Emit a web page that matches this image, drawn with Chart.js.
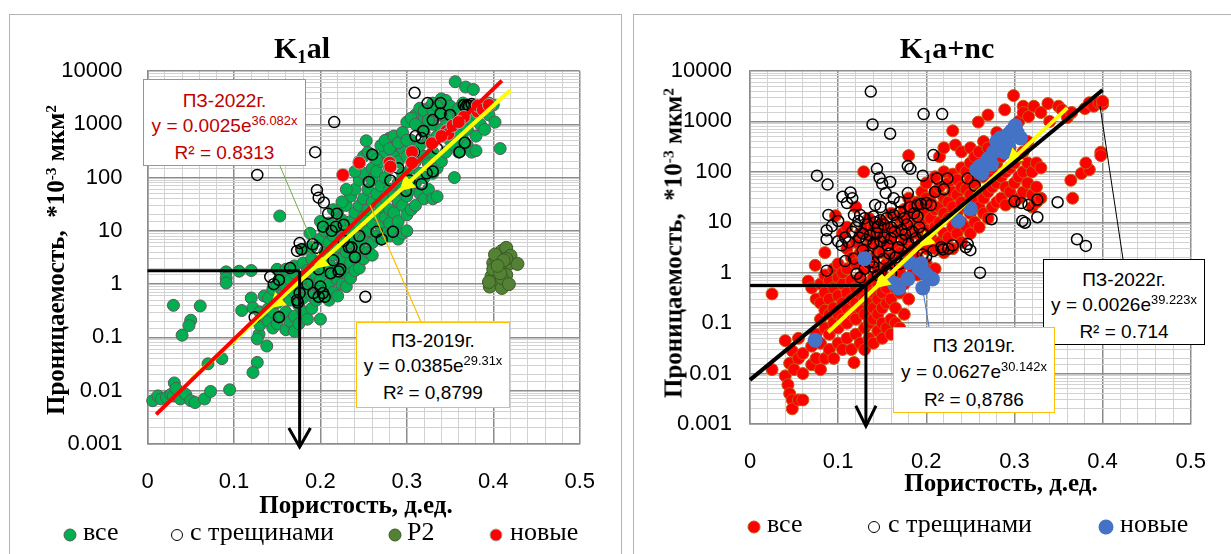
<!DOCTYPE html>
<html>
<head>
<meta charset="utf-8">
<script src="https://cdn.jsdelivr.net/npm/chart.js@4.4.0/dist/chart.umd.min.js"></script>
<style>
body{margin:0;width:1231px;height:554px;overflow:hidden;background:#fff;position:relative;font-family:"Liberation Sans",Arial,sans-serif}
.panel{position:absolute;border:1.5px solid #b4b4b4}
canvas{position:absolute;top:0}
svg{position:absolute;left:0;top:0}
.t{position:absolute;font-family:"Liberation Serif","Times New Roman",serif;font-weight:bold;white-space:nowrap;transform:translate(-50%,-50%);line-height:1;color:#000}
.t sub{font-size:62%;position:relative;top:0.28em;vertical-align:baseline}
.t sup{font-size:62%;position:relative;top:-0.5em;vertical-align:baseline}
.rot{transform:translate(-50%,-50%) rotate(-90deg)}
.box{position:absolute;background:#fff;text-align:center;font-size:19px;line-height:25px;box-sizing:border-box;white-space:nowrap}
.box sup{font-size:68%;position:relative;top:-0.55em;vertical-align:baseline}
.lg{position:absolute;font-family:"Liberation Serif","DejaVu Serif","Times New Roman",serif;font-size:26px;line-height:30px;white-space:nowrap;transform:translateY(-50%)}
.dot{position:absolute;width:13px;height:13px;border-radius:50%;box-sizing:border-box;transform:translate(-50%,-50%)}
</style>
</head>
<body>
<div class="panel" style="left:9px;top:14px;width:611px;height:560px"></div>
<div class="panel" style="left:633px;top:14px;width:620px;height:560px"></div>
<canvas id="kal" width="620" height="554" style="left:0"></canvas>
<canvas id="kanc" width="611" height="554" style="left:620px"></canvas>

<svg width="1231" height="554">
  <line x1="280" y1="166" x2="314" y2="246" stroke="#70AD47" stroke-width="1"/>
  <line x1="421" y1="322" x2="370" y2="205" stroke="#FFC000" stroke-width="1.2"/>
  <line x1="1123" y1="259" x2="1100" y2="106" stroke="#000" stroke-width="1"/>
  <line x1="929" y1="327" x2="922" y2="285" stroke="#4472C4" stroke-width="1"/>
</svg>

<div class="box" style="left:143px;top:79px;width:163px;height:87px;border:1.5px solid #ED7D31;color:#C00000;padding-top:8px">ПЗ-2022г.<br>y = 0.0025e<sup>36.082x</sup><br>R² = 0.8313</div>
<div class="box" style="left:356px;top:322px;width:154px;height:86px;border:1.5px solid #FFC000;color:#000;padding-top:5px">ПЗ-2019г.<br>y = 0.0385e<sup>29.31x</sup><br>R² = 0,8799</div>
<div class="box" style="left:1043px;top:259px;width:162px;height:86px;border:1.2px solid #000;color:#000;padding-top:7px">ПЗ-2022г.<br>y = 0.0026e<sup>39.223x</sup><br>R² = 0.714</div>
<div class="box" style="left:893px;top:327px;width:162px;height:86px;border:1.5px solid #FFC000;color:#000;padding-top:5px;line-height:26px">ПЗ 2019г.<br>y = 0.0627e<sup>30.142x</sup><br>R² = 0,8786</div>

<div class="t" style="left:302px;top:48px;font-size:30px">K<sub>1</sub>al</div>
<div class="t" style="left:947px;top:48px;font-size:30px">K<sub>1</sub>a+nc</div>
<div class="t rot" style="left:55px;top:260px;font-size:25px">Проницаемость,&nbsp;&nbsp;*10<sup>-3</sup> мкм<sup>2</sup></div>
<div class="t rot" style="left:673px;top:243px;font-size:25px">Проницаемость,&nbsp;&nbsp;*10<sup>-3</sup> мкм<sup>2</sup></div>
<div class="t" style="left:356px;top:504px;font-size:25px">Пористость, д.ед.</div>
<div class="t" style="left:1001px;top:482px;font-size:25px">Пористость, д.ед.</div>

<div class="dot" style="left:70px;top:535px;background:#00B050;border:1px solid #595959"></div>
<div class="lg" style="left:83px;top:532px">все</div>
<div class="dot" style="left:177px;top:535px;background:#fff;border:1.5px solid #000;width:12px;height:12px"></div>
<div class="lg" style="left:190px;top:532px">с трещинами</div>
<div class="dot" style="left:395px;top:535px;background:#548235;border:1px solid #3a5a24"></div>
<div class="lg" style="left:407px;top:532px">Р2</div>
<div class="dot" style="left:496px;top:535px;background:#FF0000;border:1px solid #a6a6a6"></div>
<div class="lg" style="left:510px;top:532px">новые</div>

<div class="dot" style="left:754px;top:527px;background:#FF0000;border:1px solid #C55A11"></div>
<div class="lg" style="left:767px;top:524px">все</div>
<div class="dot" style="left:874px;top:527px;background:#fff;border:1.5px solid #000;width:12px;height:12px"></div>
<div class="lg" style="left:888px;top:524px">с трещинами</div>
<div class="dot" style="left:1106px;top:527px;background:#4472C4;width:15px;height:15px"></div>
<div class="lg" style="left:1120px;top:524px">новые</div>

<script>
const xTickLabels = ['0', '0.1', '0.2', '0.3', '0.4', '0.5'];
const yTickLabels = ['0.001', '0.01', '0.1', '1', '10', '100', '1000', '10000'];

// K1al
const kalAll = [
  [0.006,0.0065],[0.012,0.008],[0.016,0.007],[0.022,0.0075],[0.027,0.0085],[0.03,0.008],[0.031,0.014],[0.033,0.011],
  [0.038,0.007],[0.044,0.0086],[0.05,0.0065],[0.055,0.006],[0.066,0.007],[0.073,0.0097],[0.095,0.0104],[0.07,0.032],
  [0.086,0.04],[0.03,0.4],[0.061,0.39],[0.05,0.21],[0.048,0.167],[0.04,0.11],[0.091,1.7],[0.091,1.3],[0.091,1.05],
  [0.106,1.75],[0.12,1.8],[0.12,0.55],[0.109,0.32],[0.122,0.36],[0.129,0.115],[0.127,0.094],[0.138,0.069],
  [0.127,0.034],[0.122,0.022],[0.153,19],
  [0.13,0.3],[0.13,0.17],[0.135,0.25],[0.135,0.6],[0.14,0.2],[0.14,0.35],[0.14,0.55],
  [0.145,0.15],[0.145,0.3],[0.145,0.8],[0.15,0.18],[0.15,0.45],[0.15,1.0],[0.15,1.9],
  [0.155,0.25],[0.155,0.6],[0.155,1.4],[0.16,0.14],[0.16,0.3],[0.16,0.9],[0.16,1.9],
  [0.165,0.2],[0.165,0.5],[0.165,1.2],[0.17,0.13],[0.17,0.25],[0.17,0.7],[0.17,1.6],[0.17,2.2],
  [0.175,0.18],[0.175,0.4],[0.175,1.0],[0.18,0.3],[0.18,0.55],[0.18,1.3],[0.18,2.5],[0.18,4.5],
  [0.185,0.22],[0.185,0.8],[0.185,1.8],[0.19,0.35],[0.19,0.6],[0.19,1.1],[0.19,3],[0.19,5],[0.188,9],
  [0.195,0.5],[0.195,1.5],[0.195,2.2],[0.2,0.22],[0.2,0.8],[0.2,1.2],[0.2,2.8],[0.2,7],
  [0.205,0.6],[0.205,1.8],[0.205,4],[0.205,10],[0.21,0.5],[0.21,1.0],[0.21,2.5],[0.21,6],[0.21,14],
  [0.215,0.7],[0.215,1.5],[0.215,3.5],[0.215,8],[0.22,0.6],[0.22,1.2],[0.22,2],[0.22,5],[0.22,12],[0.22,22],
  [0.225,1.0],[0.225,3],[0.225,7],[0.225,16],[0.23,0.9],[0.23,1.6],[0.23,4],[0.23,10],[0.23,30],
  [0.235,1.3],[0.235,2.5],[0.235,6],[0.235,15],[0.235,45],[0.24,1.8],[0.24,3.5],[0.24,9],[0.24,22],[0.24,60],
  [0.245,2],[0.245,5],[0.245,12],[0.245,30],[0.245,90],[0.25,3],[0.25,7],[0.25,18],[0.25,40],[0.25,120],
  [0.253,490],[0.255,4],[0.255,10],[0.255,25],[0.255,60],[0.26,3.5],[0.26,6],[0.26,14],[0.26,35],[0.26,90],[0.26,150],
  [0.265,8],[0.265,20],[0.265,50],[0.265,130],[0.27,7],[0.27,12],[0.27,28],[0.27,70],[0.27,200],
  [0.275,9],[0.275,18],[0.275,40],[0.275,100],[0.275,300],[0.28,8],[0.28,14],[0.28,25],[0.28,60],[0.28,150],[0.28,550],
  [0.285,10],[0.285,22],[0.285,45],[0.285,250],[0.285,400],[0.29,7],[0.29,15],[0.29,35],[0.29,80],[0.29,200],
  [0.295,9],[0.295,30],[0.295,60],[0.295,120],[0.295,350],[0.3,10],[0.3,20],[0.3,45],[0.3,100],[0.3,250],[0.3,1100],
  [0.305,25],[0.305,60],[0.305,150],[0.305,500],[0.31,30],[0.31,80],[0.31,200],[0.31,1500],
  [0.315,50],[0.315,120],[0.315,400],[0.315,900],[0.32,40],[0.32,100],[0.32,250],[0.32,700],[0.32,1300],
  [0.325,60],[0.325,180],[0.325,500],[0.325,2000],[0.33,40],[0.33,120],[0.33,300],[0.33,1000],[0.33,2500],
  [0.335,44],[0.335,150],[0.335,600],[0.335,1500],[0.34,200],[0.34,800],[0.34,2000],[0.34,3000],
  [0.345,300],[0.345,1200],[0.345,2800],[0.355,100],[0.35,500],[0.35,1500],[0.35,2200],
  [0.355,400],[0.355,900],[0.356,6300],[0.36,300],[0.36,700],[0.36,1500],[0.36,2000],
  [0.365,500],[0.365,1000],[0.365,2500],[0.368,5000],[0.37,400],[0.37,800],[0.37,1800],
  [0.375,300],[0.375,1200],[0.375,2200],[0.377,4500],[0.38,320],[0.38,600],[0.38,1500],
  [0.385,1000],[0.385,2000],[0.39,800],[0.39,2200],[0.395,1500],[0.395,2500],[0.402,1100],[0.4,2300],[0.408,350],
  [0.245,200],[0.25,250],[0.24,130],[0.255,300],[0.262,250],[0.265,220],[0.27,400],[0.275,500],[0.28,350],
  [0.285,600],[0.29,450],[0.295,700],[0.3,500],[0.305,1300],[0.31,1000],[0.315,2000],[0.32,1800],[0.325,1200],
  [0.33,1800],[0.335,2200],[0.34,1500],[0.225,35],[0.215,25],[0.23,60],[0.2,15]
];
const kalCracks = [
  [0.127,112],[0.194,300],[0.216,1100],[0.309,3900],[0.196,58],[0.198,42],[0.204,34],[0.209,21],[0.219,21],
  [0.203,12],[0.213,10],[0.227,13],[0.176,5.9],[0.178,4.5],[0.173,4.2],[0.191,5.6],[0.196,4.8],[0.142,1.37],
  [0.152,1.2],[0.146,1.0],[0.252,0.58],[0.173,0.5],[0.176,0.68],[0.174,0.45],[0.192,0.68],[0.203,0.68],
  [0.212,1.6],[0.221,1.72],[0.124,0.24],[0.152,0.24],[0.198,0.58],[0.205,0.58],[0.256,83],[0.26,270],
  [0.265,9.6],[0.271,6.9],[0.284,9.6],[0.236,4.9],[0.252,4.6],[0.223,1.9],[0.198,1.9],[0.324,2500],
  [0.339,2500],[0.339,1600],[0.317,550],[0.319,750],[0.33,1200],[0.335,350],[0.361,300],[0.367,450],
  [0.366,2300],[0.37,2300],[0.38,2300],[0.372,2200],[0.375,2400],[0.368,2100],[0.299,56],[0.317,75],
  [0.323,120],[0.33,130],[0.281,88],[0.303,88],[0.308,300],[0.218,12],[0.227,6.5],[0.233,4.9],[0.185,1.0],
  [0.165,2.0],[0.2,0.9],[0.215,2.8],[0.24,3.2],[0.245,8],[0.35,1500],[0.345,700],[0.31,600],[0.29,150]
];
const kalP2 = [
  [0.396,0.9],[0.398,1.4],[0.4,2.5],[0.403,3.2],[0.41,4.2],[0.415,4.8],[0.41,2.0],[0.405,1.2],[0.41,0.85],
  [0.415,1.5],[0.42,2.5],[0.42,3.4],[0.428,2.4],[0.415,3.0],[0.41,1.3],[0.4,1.9],[0.408,1.6],[0.418,1.0],
  [0.402,3.6],[0.395,1.1],[0.412,2.8],[0.405,2.2]
];
const kalNew = [
  [0.226,112],[0.245,190],[0.28,190],[0.281,160],[0.306,300],[0.306,190],[0.329,440],[0.346,750],[0.348,660],
  [0.353,940],[0.366,1370],[0.382,1730],[0.382,2230],[0.39,2200],[0.388,1880],[0.395,2300],[0.34,600],[0.36,1100]
];
const kalTrend2022 = [[0.01,0.0036],[0.41,6600]];
const kalTrend2019 = [[0.05,0.016],[0.15,0.47],[0.2,2.55],[0.3,75],[0.42,4400]];
const kalCutH = [[0,1.78],[0.176,1.78]];
const kalCutV = [[0.176,1.78],[0.176,0.00088]];
const kalArrow = [[0.1635,0.002],[0.176,0.00088],[0.1885,0.002]];

// K1a+nc
const kancAll = [
  [0.025,0.38],[0.025,0.012],[0.04,0.009],[0.04,0.045],[0.043,0.006],[0.045,0.004],[0.045,0.016],[0.048,0.003],
  [0.048,0.002],[0.048,0.028],[0.05,0.012],[0.055,0.003],[0.055,0.02],[0.055,0.05],[0.06,0.003],[0.06,0.01],[0.06,0.025],
  [0.066,0.68],[0.074,1.4],[0.07,0.015],[0.07,0.035],[0.07,0.5],[0.075,0.02],[0.075,0.06],[0.075,0.3],
  [0.08,0.012],[0.08,0.04],[0.08,0.12],[0.08,0.25],[0.08,0.6],[0.085,0.02],[0.085,0.08],[0.085,0.18],[0.085,0.4],
  [0.085,0.9],[0.085,2.5],[0.09,0.03],[0.09,0.06],[0.09,0.15],[0.09,0.3],[0.09,0.7],[0.097,13.5],
  [0.095,0.02],[0.095,0.1],[0.095,0.2],[0.095,0.5],[0.095,1.2],[0.1,0.04],[0.1,0.08],[0.1,0.15],[0.1,0.35],
  [0.1,0.8],[0.1,1.5],[0.105,0.03],[0.105,0.12],[0.105,0.25],[0.105,0.6],[0.105,1.0],[0.105,6],
  [0.11,0.05],[0.11,0.1],[0.11,0.2],[0.11,0.4],[0.11,1.2],[0.11,3],[0.11,8],[0.115,0.03],[0.115,0.15],[0.115,0.3],
  [0.115,0.7],[0.115,2],[0.118,0.0165],[0.12,0.06],[0.12,0.12],[0.12,0.25],[0.12,0.5],[0.12,1.5],[0.12,4],[0.12,20],
  [0.125,0.04],[0.125,0.2],[0.125,0.4],[0.125,0.8],[0.125,2.5],[0.125,6],[0.13,0.03],[0.13,0.08],[0.13,0.15],
  [0.13,0.3],[0.13,0.6],[0.13,1.2],[0.13,3],[0.13,8],[0.129,100],[0.135,0.05],[0.135,0.1],[0.135,0.25],[0.135,0.5],
  [0.135,1.5],[0.135,5],[0.135,12],[0.14,0.04],[0.14,0.12],[0.14,0.2],[0.14,0.4],[0.14,0.8],[0.14,2],[0.14,4],[0.14,8],
  [0.145,0.07],[0.145,0.15],[0.145,0.3],[0.145,0.6],[0.145,1.2],[0.145,3],[0.145,6],[0.15,0.05],[0.15,0.1],[0.15,0.2],
  [0.15,0.4],[0.15,1],[0.15,2.5],[0.15,5],[0.15,10],[0.155,0.08],[0.155,0.25],[0.155,0.5],[0.155,1.5],[0.155,4],[0.155,8],
  [0.16,0.06],[0.16,0.12],[0.16,0.3],[0.16,0.7],[0.16,2],[0.16,5],[0.16,15],[0.165,0.1],[0.165,0.2],[0.165,0.5],
  [0.165,1.2],[0.165,3],[0.165,7],[0.17,0.08],[0.17,0.4],[0.17,1],[0.17,2.5],[0.17,6],[0.17,12],
  [0.175,0.15],[0.175,0.6],[0.175,1.5],[0.175,4],[0.175,10],[0.175,18],[0.18,0.3],[0.18,0.8],[0.18,2],[0.18,5],
  [0.18,15],[0.18,30],[0.18,210],[0.185,1.2],[0.185,3],[0.185,8],[0.185,20],[0.19,0.9],[0.19,2],[0.19,6],[0.19,12],[0.19,25],
  [0.195,1.2],[0.195,4],[0.195,10],[0.195,22],[0.195,40],[0.2,1.5],[0.2,3],[0.2,7],[0.2,15],[0.2,30],[0.2,60],
  [0.205,1.1],[0.205,5],[0.205,12],[0.205,25],[0.21,1.2],[0.21,3],[0.21,8],[0.21,18],[0.21,40],[0.21,80],
  [0.215,4],[0.215,10],[0.215,20],[0.215,50],[0.215,200],[0.22,2.5],[0.22,6],[0.22,15],[0.22,30],[0.22,100],[0.22,300],
  [0.225,5],[0.225,12],[0.225,25],[0.225,60],[0.23,3],[0.23,8],[0.23,20],[0.23,40],[0.23,90],[0.23,650],[0.233,340],
  [0.235,6],[0.235,15],[0.235,35],[0.235,70],[0.24,4],[0.24,10],[0.24,25],[0.24,50],[0.24,120],[0.24,250],
  [0.245,8],[0.245,20],[0.245,45],[0.245,100],[0.25,6],[0.25,15],[0.25,35],[0.25,70],[0.25,150],[0.25,300],
  [0.255,10],[0.255,25],[0.255,60],[0.255,200],[0.26,8],[0.26,20],[0.26,40],[0.26,100],[0.26,250],[0.259,970],
  [0.265,15],[0.265,30],[0.265,80],[0.265,150],[0.265,400],[0.27,12],[0.27,40],[0.27,100],[0.27,300],[0.27,1340],
  [0.275,20],[0.275,50],[0.275,120],[0.28,25],[0.28,60],[0.28,150],[0.28,600],[0.285,30],[0.285,80],[0.285,200],[0.289,1700],
  [0.29,22],[0.29,50],[0.29,100],[0.29,250],[0.295,40],[0.295,120],[0.295,300],[0.3,25],[0.3,60],[0.3,150],[0.299,3250],
  [0.305,30],[0.305,80],[0.305,200],[0.305,1000],[0.31,40],[0.31,100],[0.31,250],[0.31,2000],[0.31,1500],
  [0.315,60],[0.315,150],[0.315,400],[0.316,1250],[0.32,20],[0.32,35],[0.32,100],[0.322,2000],
  [0.325,25],[0.325,50],[0.325,150],[0.33,30],[0.33,120],[0.33,1500],[0.338,2260],[0.34,1000],[0.35,2000],
  [0.354,1700],[0.36,1200],[0.365,1500],[0.366,30],[0.364,68],[0.376,93],[0.385,110],[0.381,150],
  [0.38,1800],[0.385,2350],[0.39,2000],[0.396,2350],[0.4,2200],[0.4,2500],[0.398,245],[0.398,210]
];
const kancCracks = [
  [0.137,3900],[0.139,870],[0.159,570],[0.197,1400],[0.218,1400],[0.208,215],[0.179,130],[0.182,115],[0.144,115],
  [0.147,76],[0.15,58],[0.159,63],[0.154,38],[0.076,84],[0.088,56],[0.105,32],[0.114,39],[0.116,30],[0.11,24],
  [0.089,14],[0.1,10.6],[0.093,8.4],[0.087,6.9],[0.087,4.6],[0.118,14],[0.123,10.6],[0.179,38],[0.196,84],[0.212,74],
  [0.224,74],[0.247,74],[0.255,53],[0.3,26],[0.308,24],[0.316,22],[0.326,28],[0.349,25],[0.309,10.6],[0.312,9.8],
  [0.326,12.6],[0.274,11.5],[0.371,4.6],[0.381,3.4],[0.261,1],[0.247,3.7],[0.217,3.2],[0.219,2.9],[0.196,2.3],
  [0.2,2.1],[0.108,1.7],[0.087,1.1],[0.121,0.95],[0.125,14],[0.13,12],[0.133,9],[0.14,13],[0.142,10],[0.145,8],
  [0.148,11],[0.152,9],[0.155,12],[0.16,8],[0.163,14],[0.167,10],[0.17,16],[0.172,7],[0.175,12],[0.178,9],
  [0.182,20],[0.186,15],[0.19,22],[0.194,23],[0.2,24],[0.205,22],[0.128,6],[0.132,4.5],[0.136,5.5],[0.14,3.8],
  [0.144,6],[0.148,4.2],[0.152,5],[0.156,3.5],[0.16,4.8],[0.164,6.5],[0.168,3.2],[0.172,4.5],[0.176,5.8],[0.18,3.8],
  [0.184,6.5],[0.188,4.8],[0.192,8],[0.196,6],[0.1,4.2],[0.104,3.5],[0.108,5],[0.112,4],[0.116,6.5],[0.12,8],
  [0.124,5],[0.128,2.8],[0.134,2.2],[0.14,1.6],[0.146,2.6],[0.152,1.9],[0.158,2.4],[0.165,2],[0.17,1.5],[0.13,1.2],
  [0.125,0.8],[0.145,0.9],[0.155,1.1],[0.16,0.95],[0.14,1.3],[0.118,1.9],[0.135,1.6],[0.163,30],[0.17,25],[0.148,20],
  [0.142,22],[0.16,20],[0.225,3],[0.23,3.5],[0.208,2.7],[0.19,13],[0.21,40],[0.22,45],[0.245,3.2],[0.25,2.8]
];
const kancNew = [
  [0.074,0.046],[0.13,1.9],[0.163,0.62],[0.169,0.5],[0.179,0.75],[0.181,1.6],[0.194,1.5],[0.2,0.92],[0.196,0.5],
  [0.207,0.75],[0.198,1.0],[0.192,1.2],[0.236,10.6],[0.25,18.6],[0.261,130],[0.263,93],[0.27,180],[0.276,245],
  [0.28,400],[0.284,470],[0.289,245],[0.293,550],[0.297,650],[0.301,820],[0.303,600],[0.307,470],[0.293,340],
  [0.284,290],[0.274,140],[0.257,110]
];
const kancTrend2022 = [[0,0.0075],[0.4,4200]];
const kancTrend2019 = [[0.0886,0.066],[0.15,0.67],[0.2,4.4],[0.3,194],[0.36,1860]];
const kancCutH = [[0,0.555],[0.1315,0.555]];
const kancCutV = [[0.1315,0.555],[0.1315,0.00091]];
const kancArrow = [[0.12,0.0023],[0.1315,0.00091],[0.143,0.0023]];

const MAJ = '#8c8c8c';
const MIN = '#d2d2d2';
const pts = a => a.map(p => ({ x: p[0], y: p[1] }));
const isDecade = v => Math.abs(Math.log10(v) - Math.round(Math.log10(v))) < 1e-6;
const isTenth = v => Math.round(v * 50) % 5 === 0;

function scatter(data, bg, border, bw, r, order) {
  return { type: 'scatter', data: pts(data), backgroundColor: bg, borderColor: border, borderWidth: bw,
    pointRadius: r, pointHoverRadius: r, order, clip: false };
}
function line(data, color, width, order, extra) {
  return Object.assign({ type: 'line', data: pts(data), borderColor: color, borderWidth: width, pointRadius: 0,
    showLine: true, fill: false, order, clip: false, borderCapStyle: 'butt' }, extra || {});
}
function trend2019(data) {
  return line(data, '#FFFF00', 4, 1, { pointRadius: [0, 10, 10, 10, 0], pointStyle: 'triangle', rotation: 228,
    pointBackgroundColor: '#FFFF00', pointBorderColor: '#FFFF00', pointBorderWidth: 0 });
}

function makeChart(id, datasets, pad, yWidth, xHeight, yPad) {
  return new Chart(document.getElementById(id), {
    type: 'scatter',
    data: { datasets },
    options: {
      responsive: false, animation: false, events: [],
      layout: { padding: pad, autoPadding: false },
      plugins: { legend: { display: false }, tooltip: { enabled: false } },
      scales: {
        x: {
          type: 'linear', min: 0, max: 0.5,
          afterFit: s => { s.height = xHeight; },
          ticks: { stepSize: 0.02, maxTicksLimit: 100, autoSkip: false, maxRotation: 0, padding: 25,
            color: '#000', font: { family: 'Liberation Sans', size: 22 },
            callback: v => isTenth(v) ? xTickLabels[Math.round(v * 10)] : '' },
          grid: { drawTicks: false, color: c => (c.tick && isTenth(c.tick.value)) ? MAJ : MIN,
            lineWidth: c => (c.tick && isTenth(c.tick.value)) ? 1.5 : 1 },
          border: { color: MAJ, width: 1.5 }
        },
        y: {
          type: 'logarithmic', min: 0.001, max: 10000,
          afterFit: s => { s.width = yWidth; },
          ticks: { autoSkip: false, padding: yPad, color: '#000', font: { family: 'Liberation Sans', size: 22 },
            callback: v => isDecade(v) ? yTickLabels[Math.round(Math.log10(v)) + 3] : '' },
          grid: { drawTicks: false, color: c => (c.tick && isDecade(c.tick.value)) ? MAJ : MIN,
            lineWidth: c => (c.tick && isDecade(c.tick.value)) ? 1.5 : 1 },
          border: { color: MAJ, width: 1.5 }
        }
      }
    }
  });
}

makeChart('kal', [
  line(kalCutH, '#000', 3, 0), line(kalCutV, '#000', 3, 0), line(kalArrow, '#000', 3, 0, { borderJoinStyle: 'miter' }),
  line(kalTrend2022, '#FF0000', 4, 1),
  trend2019(kalTrend2019),
  scatter(kalNew, '#FF0000', '#a6a6a6', 1, 6.5, 2),
  scatter(kalP2, '#548235', '#3a5a24', 1, 6.5, 3),
  scatter(kalCracks, 'rgba(0,0,0,0)', '#000', 1.5, 5.5, 4),
  scatter(kalAll, '#00B050', '#595959', 1, 6, 5)
], { top: 71, right: 31, left: 0, bottom: 0 }, 147.5, 110, 25);

makeChart('kanc', [
  line(kancCutH, '#000', 3, 0), line(kancCutV, '#000', 3, 0), line(kancArrow, '#000', 3, 0, { borderJoinStyle: 'miter' }),
  line(kancTrend2022, '#000', 4, 1),
  trend2019(kancTrend2019),
  scatter(kancNew, '#4472C4', '#4472C4', 0, 7.5, 2),
  scatter(kancCracks, 'rgba(0,0,0,0)', '#000', 1.5, 5.5, 3),
  scatter(kancAll, '#FF0000', '#C55A11', 1, 6, 4)
], { top: 71, right: 18, left: 0, bottom: 0 }, 130, 130, 18);
</script>
</body>
</html>
